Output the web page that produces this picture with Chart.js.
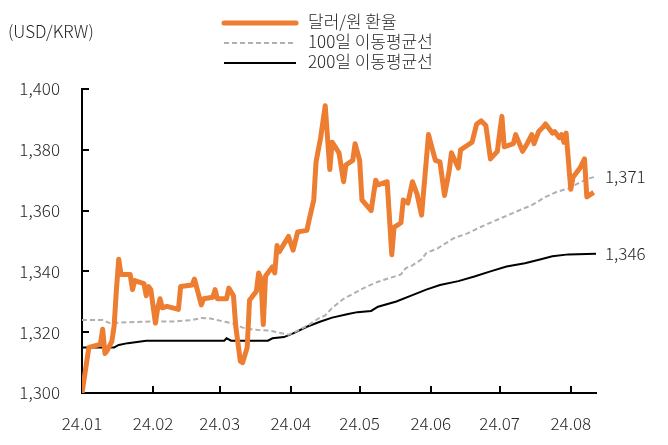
<!DOCTYPE html>
<html>
<head>
<meta charset="utf-8">
<script src="https://cdn.jsdelivr.net/npm/chart.js@4.4.1/dist/chart.umd.min.js"></script>
<style>
  html, body { margin: 0; padding: 0; background: #fff; }
</style>
</head>
<body>
<canvas id="chart" width="668" height="445"></canvas>
<script>
// days counted from 2024-01-01
const monthTicks = [0, 31, 60, 91, 121, 152, 182, 213];
const monthLabels = ["24.01", "24.02", "24.03", "24.04", "24.05", "24.06", "24.07", "24.08"];

const fxDays = [0, 3, 8, 9, 10, 11, 13, 14, 15, 16, 17, 21, 22, 23, 27, 28, 29, 30, 32, 33, 34, 35, 37,
  42, 43, 48, 49, 52, 53, 57, 58, 59, 63, 64, 66, 67, 69, 70, 72, 73, 76, 77, 78, 79, 80, 83, 84, 85, 86,
  90, 92, 94, 98, 99, 101, 102, 104, 106, 108, 109, 112, 114, 115, 118, 119, 121, 122, 126, 128, 129,
  133, 135, 136, 139, 140, 142, 144, 146, 148, 151, 154, 156, 158, 160, 161, 164, 165, 168, 170, 172,
  174, 176, 178, 181, 182, 183, 184, 188, 189, 192, 194, 196, 197, 199, 201, 202, 205, 206, 208, 209,
  210, 211, 213, 214, 217, 219, 220, 223];
const fxRates = [1300, 1315, 1316, 1321, 1313, 1314, 1317, 1322, 1334, 1344, 1339, 1339, 1334, 1337, 1336, 1332, 1335, 1334, 1323, 1328, 1331, 1328, 1328.5,
  1327.5, 1335, 1335.5, 1337.5, 1329, 1331, 1331.5, 1334, 1331, 1331, 1334.5, 1332, 1322, 1310.5, 1310, 1315, 1330.5, 1333.5, 1339.5, 1337.5, 1322.5, 1338.5, 1341.5, 1339.5, 1348.5, 1346.5,
  1351.5, 1347, 1353, 1353.5, 1357, 1363.5, 1376, 1384, 1394.5, 1373.5, 1382.5, 1379, 1369.5, 1375, 1376.5, 1382, 1376.5, 1363.5, 1360, 1370, 1368.5,
  1369.5, 1345.5, 1354.5, 1356, 1363.5, 1362.5, 1369.5, 1365.5, 1358.5, 1385, 1376.5, 1376, 1365, 1373, 1379, 1374, 1380, 1381.5, 1382.5, 1388.5,
  1389.5, 1388, 1377, 1379.5, 1385.5, 1391, 1381, 1382, 1385, 1379.5, 1382, 1385, 1382, 1386, 1387.5, 1388.5, 1385.5, 1386, 1384, 1385,
  1382.5, 1385.5, 1367, 1371, 1374, 1377, 1364.5, 1366];

const ma100Days = [0, 9, 12, 20, 30, 40, 48, 52, 56, 60, 66, 70, 75, 82, 88, 90, 94, 99, 103, 106, 109, 114, 119, 124, 129,
  134, 139, 141, 144, 148, 150, 155, 162, 168, 174, 181, 189, 196, 202, 207, 212, 220, 224];
const ma100Rates = [1324, 1324, 1323, 1323.3, 1323.5, 1323.5, 1324, 1324.7, 1324.5, 1323.8, 1322.8, 1321.5, 1320.8, 1320.5, 1319.5, 1319.2, 1320.5, 1322.5, 1324.5, 1325.5, 1328, 1331, 1333, 1335, 1336.6,
  1337.8, 1339, 1341, 1342, 1344, 1346, 1347.6, 1350.9, 1352.5, 1354.7, 1357, 1359.6, 1361.8, 1364.5, 1366.2, 1367.3, 1370.4, 1371.2];

const ma200Days = [0, 14, 16, 20, 28, 62, 63, 65, 81, 83, 88, 92, 98, 104, 109, 116, 120, 126, 129, 137, 144, 150, 156,
  164, 171, 178, 185, 193, 200, 205, 212, 224];
const ma200Rates = [1315, 1315, 1315.8, 1316.4, 1317.2, 1317.2, 1318, 1317.2, 1317.2, 1318, 1318.4, 1319.6, 1321.8, 1323.5, 1324.8, 1326, 1326.6, 1327, 1328.4, 1330.1, 1332.2, 1334, 1335.5,
  1336.8, 1338.3, 1340, 1341.6, 1342.7, 1344, 1345, 1345.6, 1345.8];

const seriesNames = ["달러/원 환율", "100일 이동평균선", "200일 이동평균선"];
const unitLabel = "(USD/KRW)";

const FONT = "'Noto Sans CJK KR', 'Noto Sans', sans-serif";
const TEXT_COLOR = "#262626";

function toPoints(days, values) {
  return days.map((d, i) => ({ x: d, y: values[i] }));
}

function fmt(v) {
  return Math.round(v).toLocaleString("en-US");
}

// inward tick marks, legend, unit and end labels
const decorations = {
  id: "decorations",
  afterDraw(chart) {
    const { ctx, chartArea, scales } = chart;
    ctx.save();
    ctx.strokeStyle = "#000";
    ctx.lineWidth = 2;
    scales.y.ticks.forEach((t) => {
      if (t.value === scales.y.min) return;
      const y = Math.round(scales.y.getPixelForValue(t.value));
      ctx.beginPath();
      ctx.moveTo(chartArea.left, y);
      ctx.lineTo(chartArea.left + 7, y);
      ctx.stroke();
    });
    scales.x.ticks.forEach((t) => {
      if (t.value === scales.x.min) return;
      const x = Math.round(scales.x.getPixelForValue(t.value));
      ctx.beginPath();
      ctx.moveTo(x, chartArea.bottom);
      ctx.lineTo(x, chartArea.bottom - 7);
      ctx.stroke();
    });

    ctx.font = "300 17px " + FONT;
    ctx.fillStyle = TEXT_COLOR;
    ctx.textBaseline = "middle";
    ctx.textAlign = "left";
    ctx.fillText(unitLabel, 8, 32);

    // legend
    chart.data.datasets.forEach((ds, i) => {
      const y = 23 + i * 20;
      ctx.strokeStyle = ds.borderColor;
      ctx.lineWidth = ds.borderWidth;
      ctx.lineCap = i === 0 ? "round" : "butt";
      ctx.setLineDash(ds.borderDash || []);
      ctx.beginPath();
      ctx.moveTo(224, y);
      ctx.lineTo(296, y);
      ctx.stroke();
      ctx.setLineDash([]);
      ctx.fillStyle = TEXT_COLOR;
      ctx.fillText(ds.label, 308, y - 1);
    });

    // end values of the moving averages
    [1, 2].forEach((i) => {
      const meta = chart.getDatasetMeta(i);
      const last = meta.data[meta.data.length - 1];
      const data = chart.data.datasets[i].data;
      ctx.fillText(fmt(data[data.length - 1].y), chartArea.right + 9, last.y);
    });
    ctx.restore();
  },
};

new Chart(document.getElementById("chart"), {
  type: "line",
  data: {
    datasets: [
      {
        label: seriesNames[0],
        data: toPoints(fxDays, fxRates),
        borderColor: "#ED7D31",
        borderWidth: 5,
        borderJoinStyle: "round",
        pointRadius: 0,
        tension: 0,
      },
      {
        label: seriesNames[1],
        data: toPoints(ma100Days, ma100Rates),
        borderColor: "#B0B0B0",
        borderWidth: 2,
        borderDash: [5, 3],
        pointRadius: 0,
        tension: 0,
      },
      {
        label: seriesNames[2],
        data: toPoints(ma200Days, ma200Rates),
        borderColor: "#000000",
        borderWidth: 2,
        pointRadius: 0,
        tension: 0,
      },
    ],
  },
  options: {
    responsive: false,
    animation: false,
    devicePixelRatio: 1,
    layout: { padding: { top: 89, right: 72, left: 0, bottom: 0 } },
    plugins: {
      legend: { display: false },
      tooltip: { enabled: false },
    },
    scales: {
      x: {
        type: "linear",
        min: 0,
        max: 224,
        afterBuildTicks: (scale) => {
          scale.ticks = monthTicks.map((v) => ({ value: v }));
        },
        afterFit: (scale) => {
          scale.height = 52;
        },
        grid: { display: false, drawTicks: false },
        border: { display: true, color: "#000", width: 2 },
        ticks: {
          autoSkip: false,
          maxRotation: 0,
          padding: 20,
          color: TEXT_COLOR,
          font: { family: FONT, size: 17, weight: 300 },
          callback: (v) => monthLabels[monthTicks.indexOf(v)],
        },
      },
      y: {
        min: 1300,
        max: 1400,
        afterFit: (scale) => {
          scale.width = 82;
        },
        grid: { display: false, drawTicks: false },
        border: { display: true, color: "#000", width: 2 },
        ticks: {
          stepSize: 20,
          padding: 22,
          color: TEXT_COLOR,
          font: { family: FONT, size: 17, weight: 300 },
          callback: (v) => fmt(v),
        },
      },
    },
  },
  plugins: [decorations],
});
</script>
</body>
</html>
